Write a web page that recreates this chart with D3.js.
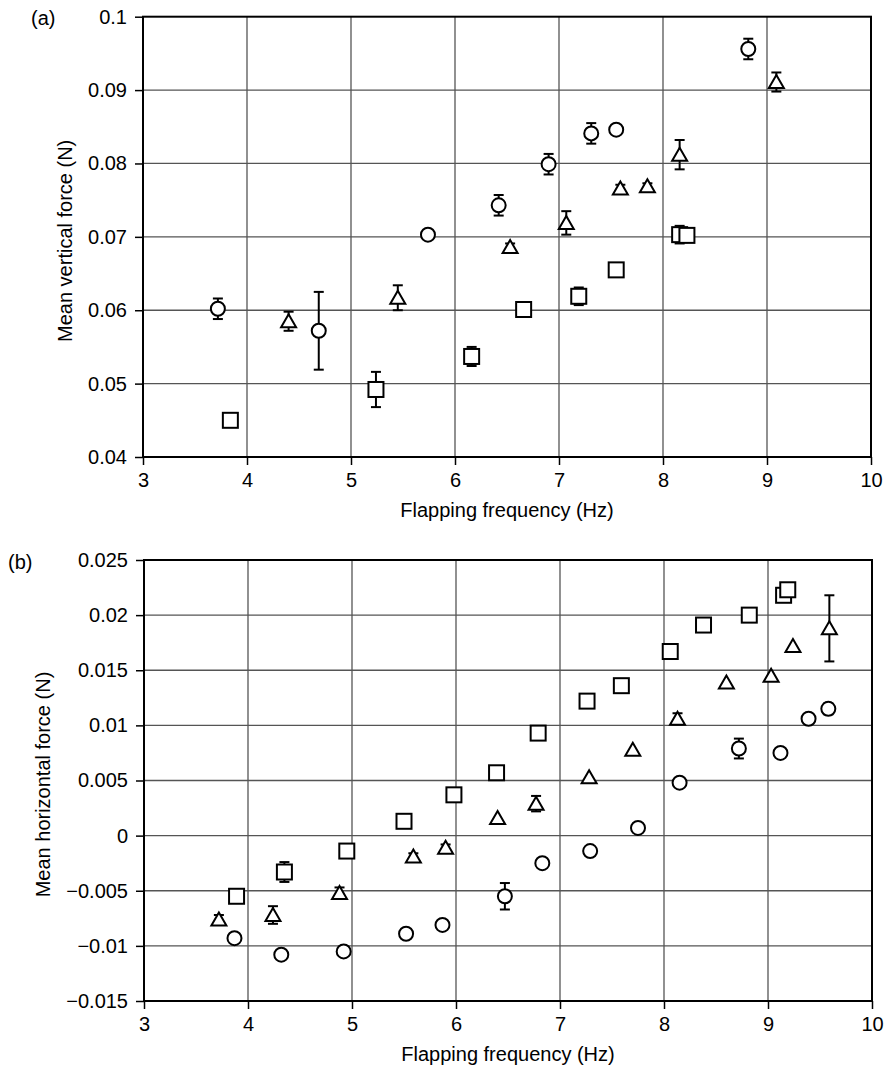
<!DOCTYPE html>
<html>
<head>
<meta charset="utf-8">
<script src="https://cdn.jsdelivr.net/npm/d3@7"></script>
<style>
  html, body { margin: 0; padding: 0; background: #fff; }
  svg { display: block; }
  text { font-family: "Liberation Sans", Arial, Helvetica, sans-serif; fill: #000; }
</style>
</head>
<body>
<svg id="chart" width="885" height="1068"></svg>
<script>
// ---------- DATA ----------
const xTicks = [3, 4, 5, 6, 7, 8, 9, 10];
const xTickLabels = ["3", "4", "5", "6", "7", "8", "9", "10"];

// Panel (a): mean vertical force
const aYTicks = [0.04, 0.05, 0.06, 0.07, 0.08, 0.09, 0.1];
const aYTickLabels = ["0.04", "0.05", "0.06", "0.07", "0.08", "0.09", "0.1"];

const aCircleFreq = [3.72, 4.69, 5.74, 6.42, 6.90, 7.31, 7.55, 8.82];
const aCircleVal  = [0.0602, 0.0572, 0.0703, 0.0743, 0.0799, 0.0841, 0.0846, 0.0956];
const aCircleErr  = [0.0014, 0.0053, 0, 0.0014, 0.0014, 0.0014, 0, 0.0014];

const aTriFreq = [4.40, 5.45, 6.53, 7.07, 7.59, 7.85, 8.16, 9.09];
const aTriVal  = [0.0585, 0.0617, 0.0686, 0.0719, 0.0766, 0.0769, 0.0812, 0.0911];
const aTriErr  = [0.0013, 0.0017, 0.0005, 0.0016, 0.0005, 0.0004, 0.0020, 0.0013];

const aSqFreq = [3.84, 5.24, 6.16, 6.66, 7.19, 7.55, 8.16, 8.23];
const aSqVal  = [0.0450, 0.0492, 0.0537, 0.0601, 0.0619, 0.0655, 0.0703, 0.0702];
const aSqErr  = [0, 0.0024, 0.0013, 0, 0.0012, 0, 0.0012, 0];

// Panel (b): mean horizontal force
const bYTicks = [-0.015, -0.01, -0.005, 0, 0.005, 0.01, 0.015, 0.02, 0.025];
const bYTickLabels = ["\u22120.015", "\u22120.01", "\u22120.005", "0", "0.005", "0.01", "0.015", "0.02", "0.025"];

const bCircleFreq = [3.87, 4.32, 4.92, 5.52, 5.87, 6.47, 6.83, 7.29, 7.75, 8.15, 8.72, 9.12, 9.39, 9.58];
const bCircleVal  = [-0.0093, -0.0108, -0.0105, -0.0089, -0.0081, -0.0055, -0.0025, -0.0014, 0.0007, 0.0048, 0.0079, 0.0075, 0.0106, 0.0115];
const bCircleErr  = [0, 0, 0, 0, 0, 0.0012, 0, 0, 0, 0, 0.0009, 0, 0, 0.0005];

const bTriFreq = [3.72, 4.24, 4.88, 5.59, 5.90, 6.40, 6.77, 7.28, 7.70, 8.13, 8.60, 9.03, 9.24, 9.59];
const bTriVal  = [-0.0076, -0.0072, -0.0052, -0.0019, -0.0011, 0.0016, 0.0029, 0.0053, 0.0078, 0.0106, 0.0139, 0.0145, 0.0172, 0.0188];
const bTriErr  = [0.0004, 0.0008, 0.0005, 0.0003, 0.0003, 0, 0.0007, 0, 0, 0.0005, 0, 0, 0, 0.0030];

const bSqFreq = [3.89, 4.35, 4.95, 5.50, 5.98, 6.39, 6.79, 7.26, 7.59, 8.06, 8.38, 8.82, 9.15, 9.19];
const bSqVal  = [-0.0055, -0.0033, -0.0014, 0.0013, 0.0037, 0.0057, 0.0093, 0.0122, 0.0136, 0.0167, 0.0191, 0.0200, 0.0218, 0.0223];
const bSqErr  = [0, 0.0009, 0, 0, 0, 0, 0, 0, 0, 0, 0, 0, 0, 0];

// ---------- DRAW ----------
const svg = d3.select("#chart");
const FONT = 20;

function zip(f, v, e) { return f.map((d, i) => ({ f: d, v: v[i], e: e[i] })); }

function panel(cfg) {
  const x = d3.scaleLinear().domain([3, 10]).range([cfg.left, cfg.right]);
  const y = d3.scaleLinear().domain(cfg.yDomain).range([cfg.bottom, cfg.top]);
  const g = svg.append("g");

  // grid
  g.append("g").selectAll("line.vg").data(xTicks.slice(1, -1)).join("line")
    .attr("x1", d => x(d)).attr("x2", d => x(d))
    .attr("y1", cfg.top).attr("y2", cfg.bottom)
    .attr("stroke", "#555").attr("stroke-width", 1.3);
  g.append("g").selectAll("line.hg").data(cfg.yTicks.slice(1, -1)).join("line")
    .attr("x1", cfg.left).attr("x2", cfg.right)
    .attr("y1", d => y(d)).attr("y2", d => y(d))
    .attr("stroke", "#555").attr("stroke-width", 1.3);

  // axes
  const xAxis = d3.axisBottom(x).tickValues(xTicks)
    .tickFormat((d, i) => xTickLabels[i]).tickSize(8).tickPadding(8);
  const yAxis = d3.axisLeft(y).tickValues(cfg.yTicks)
    .tickFormat((d, i) => cfg.yTickLabels[i]).tickSize(8).tickPadding(8);

  const gx = g.append("g").attr("transform", `translate(0,${cfg.bottom})`).call(xAxis);
  const gy = g.append("g").attr("transform", `translate(${cfg.left},0)`).call(yAxis);
  [gx, gy].forEach(a => {
    a.select(".domain").remove();
    a.selectAll(".tick line").attr("stroke", "#000").attr("stroke-width", 1.5);
    a.selectAll(".tick text").attr("font-size", FONT).attr("font-family", "Liberation Sans, Arial, sans-serif").attr("fill", "#000");
  });

  // frame
  g.append("rect").attr("x", cfg.left).attr("y", cfg.top)
    .attr("width", cfg.right - cfg.left).attr("height", cfg.bottom - cfg.top)
    .attr("fill", "none").attr("stroke", "#000").attr("stroke-width", 2);

  // titles
  g.append("text").attr("x", (cfg.left + cfg.right) / 2).attr("y", cfg.bottom + 60)
    .attr("text-anchor", "middle").attr("font-size", FONT).text("Flapping frequency (Hz)");
  g.append("text")
    .attr("transform", `translate(${cfg.yTitleX},${(cfg.top + cfg.bottom) / 2 + 4}) rotate(-90)`)
    .attr("text-anchor", "middle").attr("font-size", FONT).text(cfg.yTitle);
  g.append("text").attr("x", cfg.labelX).attr("y", cfg.labelY)
    .attr("font-size", FONT).text(cfg.label);

  const marks = g.append("g");
  function drawSeries(data, shape) {
    const s = marks.append("g");
    const withErr = data.filter(d => d.e > 0);
    // error bars
    s.selectAll("line.eb").data(withErr).join("line")
      .attr("x1", d => x(d.f)).attr("x2", d => x(d.f))
      .attr("y1", d => y(d.v - d.e)).attr("y2", d => y(d.v + d.e))
      .attr("stroke", "#000").attr("stroke-width", 2);
    s.selectAll("line.ct").data(withErr).join("line")
      .attr("x1", d => x(d.f) - 5).attr("x2", d => x(d.f) + 5)
      .attr("y1", d => y(d.v + d.e)).attr("y2", d => y(d.v + d.e))
      .attr("stroke", "#000").attr("stroke-width", 2);
    s.selectAll("line.cb").data(withErr).join("line")
      .attr("x1", d => x(d.f) - 5).attr("x2", d => x(d.f) + 5)
      .attr("y1", d => y(d.v - d.e)).attr("y2", d => y(d.v - d.e))
      .attr("stroke", "#000").attr("stroke-width", 2);
    // markers
    const m = s.selectAll("g.m").data(data).join("g")
      .attr("transform", d => `translate(${x(d.f)},${y(d.v)})`);
    if (shape === "circle") {
      m.append("circle").attr("r", 7).attr("fill", "#fff").attr("stroke", "#000").attr("stroke-width", 2);
    } else if (shape === "square") {
      m.append("rect").attr("x", -7.5).attr("y", -7.5).attr("width", 15).attr("height", 15)
        .attr("fill", "#fff").attr("stroke", "#000").attr("stroke-width", 2);
    } else {
      m.append("path").attr("d", "M0,-7L7.5,6L-7.5,6Z")
        .attr("fill", "#fff").attr("stroke", "#000").attr("stroke-width", 2).attr("stroke-linejoin", "miter");
    }
  }
  cfg.series.forEach(sr => drawSeries(sr.data, sr.shape));
}

panel({
  left: 143, right: 871, top: 16.7, bottom: 457,
  yDomain: [0.04, 0.1], yTicks: aYTicks, yTickLabels: aYTickLabels,
  yTitle: "Mean vertical force (N)", yTitleX: 72,
  label: "(a)", labelX: 31, labelY: 25,
  series: [
    { shape: "square", data: zip(aSqFreq, aSqVal, aSqErr) },
    { shape: "triangle", data: zip(aTriFreq, aTriVal, aTriErr) },
    { shape: "circle", data: zip(aCircleFreq, aCircleVal, aCircleErr) }
  ]
});

panel({
  left: 144, right: 872, top: 560, bottom: 1001,
  yDomain: [-0.015, 0.025], yTicks: bYTicks, yTickLabels: bYTickLabels,
  yTitle: "Mean horizontal force (N)", yTitleX: 50,
  label: "(b)", labelX: 8, labelY: 569,
  series: [
    { shape: "square", data: zip(bSqFreq, bSqVal, bSqErr) },
    { shape: "triangle", data: zip(bTriFreq, bTriVal, bTriErr) },
    { shape: "circle", data: zip(bCircleFreq, bCircleVal, bCircleErr) }
  ]
});
</script>
</body>
</html>
